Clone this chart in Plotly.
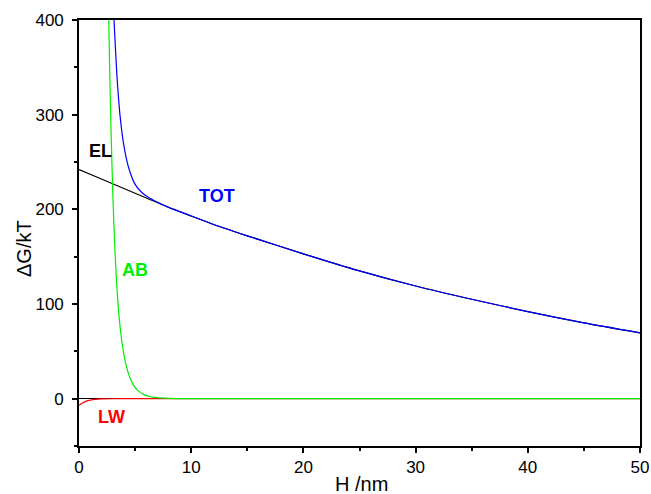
import plotly.graph_objects as go

# EL (electrostatic) read values
el_x = [0, 2, 4, 6, 8, 10, 12, 15, 20, 25, 30, 35, 40, 45, 50]
el_y = [242, 232, 222, 212, 202, 193, 184, 172, 153, 135, 119, 105, 92, 80, 69.5]

# LW (Lifshitz-van der Waals)
lw_x = [0, 0.3, 0.6, 1.0, 1.5, 2.0, 3.0, 5.0, 10, 20, 30, 40, 50]
lw_y = [-7, -4.5, -2.8, -1.5, -0.7, -0.3, -0.1, 0, 0, 0, 0, 0, 0]

# AB (acid-base)
ab_x = [2.58, 2.65, 2.75, 2.85, 2.95, 3.06, 3.2, 3.36, 3.6, 3.95, 4.25, 4.55, 4.9, 5.3, 5.8, 6.3, 7.0, 8.0, 10, 20, 30, 40, 50]
ab_y = [450, 400, 338, 286, 242, 200, 158, 121, 83, 50, 33, 21.5, 13.5, 8, 4.3, 2.3, 1, 0.3, 0, 0, 0, 0, 0]

# TOT (total)
tot_x = [3.05, 3.12, 3.36, 3.5, 3.65, 3.95, 4.4, 5.0, 5.6, 6.2, 7, 8, 10, 12, 15, 20, 25, 30, 35, 40, 45, 50]
tot_y = [420, 400, 345, 321, 300, 271, 245, 226.4, 217.8, 212.5, 207.5, 202.1, 193, 184, 172, 153, 135, 119, 105, 92, 80, 69.5]

x_ticks = [0, 10, 20, 30, 40, 50]
y_ticks = [0, 100, 200, 300, 400]

FONT = "Liberation Sans, Arial, sans-serif"

fig = go.Figure()
fig.add_trace(go.Scatter(x=el_x, y=el_y, mode="lines", line=dict(color="black", width=1.2, shape="spline", smoothing=0.6), name="EL"))
fig.add_trace(go.Scatter(x=lw_x, y=lw_y, mode="lines", line=dict(color="#ff0000", width=1.2, shape="spline", smoothing=0.6), name="LW"))
fig.add_trace(go.Scatter(x=ab_x, y=ab_y, mode="lines", line=dict(color="#00ee00", width=1.2, shape="spline", smoothing=0.6), name="AB"))
fig.add_trace(go.Scatter(x=tot_x, y=tot_y, mode="lines", line=dict(color="#0000ff", width=1.2, shape="spline", smoothing=0.6), name="TOT"))

labels = [
    ("EL", 1.92, 262, "black"),
    ("TOT", 12.27, 214.6, "#0000ff"),
    ("AB", 5.02, 135.7, "#00ee00"),
    ("LW", 2.94, -19.7, "#ff0000"),
]
for txt, lx, ly, col in labels:
    fig.add_annotation(x=lx, y=ly, text="<b>%s</b>" % txt, showarrow=False,
                       font=dict(family=FONT, size=18, color=col), xanchor="center", yanchor="middle")

fig.add_annotation(xref="paper", yref="paper", x=(361 - 79) / 561, y=(446 - 484) / 426, text="H /nm", showarrow=False,
                   font=dict(family=FONT, size=20, color="black"), xanchor="center", yanchor="middle")
fig.add_annotation(xref="paper", yref="paper", x=(24 - 79) / 561, y=(446 - 249) / 426, text="ΔG/kT", showarrow=False,
                   textangle=-90, font=dict(family=FONT, size=20, color="black"), xanchor="center", yanchor="middle")

fig.update_layout(
    width=651, height=494,
    margin=dict(l=79, r=11, t=20, b=48, autoexpand=False),
    paper_bgcolor="white", plot_bgcolor="white",
    showlegend=False,
    font=dict(family=FONT, size=16, color="black"),
)
fig.update_xaxes(range=[0, 50], tickvals=x_ticks, ticks="outside", ticklen=5, tickwidth=1.5, tickcolor="black",
                 showline=True, linecolor="black", linewidth=1.6, mirror=True, showgrid=False, zeroline=False,
                 automargin=False,
                 minor=dict(dtick=5, ticks="outside", ticklen=3, tickwidth=1.5, tickcolor="black"),
                 tickfont=dict(family=FONT, size=17))
fig.update_yaxes(range=[-50, 400], tickvals=y_ticks, ticks="outside", ticklen=5, tickwidth=1.5, tickcolor="black",
                 showline=True, linecolor="black", linewidth=1.6, mirror=True, showgrid=False,
                 zeroline=True, zerolinecolor="black", zerolinewidth=1.2, automargin=False,
                 ticklabelstandoff=5,
                 minor=dict(dtick=50, ticks="outside", ticklen=3, tickwidth=1.5, tickcolor="black"),
                 tickfont=dict(family=FONT, size=17))

fig.write_html("out.html", config={"displayModeBar": False},
               post_script="document.body.style.margin='0';document.body.style.overflow='hidden';")
